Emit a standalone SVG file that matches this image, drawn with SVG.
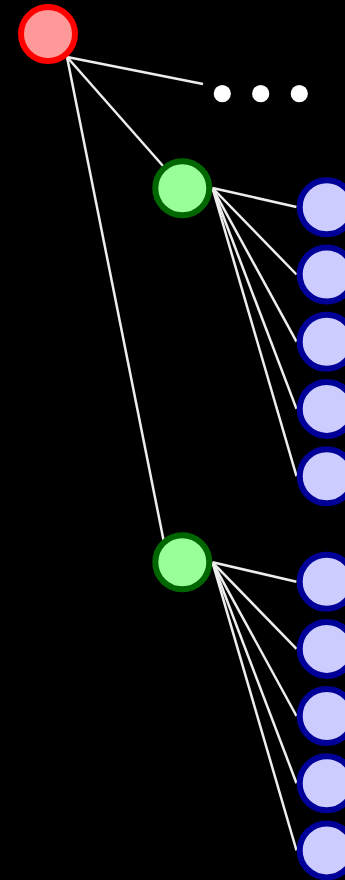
<svg xmlns="http://www.w3.org/2000/svg" width="345" height="880" viewBox="0 0 345 880">
<style>
.edge{stroke:#eeeeee;stroke-width:2.5;fill:none;stroke-linecap:butt}
.root{fill:#ff9999;stroke:#ff0000;stroke-width:6}
.mid{fill:#99ff99;stroke:#006600;stroke-width:6}
.leaf{fill:#ccccff;stroke:#000099;stroke-width:6}
.dot{fill:#ffffff}
</style>
<rect x="0" y="0" width="345" height="880" fill="#000000"/>
<g id="connectors">
<line class="edge" x1="67" y1="57" x2="203" y2="84"/>
<line class="edge" x1="67" y1="57" x2="163.5" y2="166.5"/>
<line class="edge" x1="67" y1="57" x2="163.5" y2="540"/>
<line class="edge" x1="212.5" y1="188" x2="296.5" y2="207"/>
<line class="edge" x1="212.5" y1="188" x2="296.5" y2="274.5"/>
<line class="edge" x1="212.5" y1="188" x2="296.5" y2="341.7"/>
<line class="edge" x1="212.5" y1="188" x2="296.5" y2="408.9"/>
<line class="edge" x1="212.5" y1="188" x2="296.5" y2="476.2"/>
<line class="edge" x1="212.5" y1="562.3" x2="296.5" y2="581.7"/>
<line class="edge" x1="212.5" y1="562.3" x2="296.5" y2="648.9"/>
<line class="edge" x1="212.5" y1="562.3" x2="296.5" y2="716"/>
<line class="edge" x1="212.5" y1="562.3" x2="296.5" y2="783.2"/>
<line class="edge" x1="212.5" y1="562.3" x2="296.5" y2="850.5"/>
</g>
<g id="root"><circle class="root" cx="48" cy="34" r="27"/></g>
<g id="ellipsis">
<circle class="dot" cx="222.3" cy="93.7" r="8.6"/>
<circle class="dot" cx="260.7" cy="93.7" r="8.6"/>
<circle class="dot" cx="299.3" cy="93.7" r="8.6"/>
</g>
<g id="mid1"><circle class="mid" cx="182.3" cy="188.3" r="27"/></g>
<g id="mid2"><circle class="mid" cx="182.3" cy="562.3" r="27"/></g>
<g id="leaf1"><circle class="leaf" cx="326.7" cy="207.3" r="27"/></g>
<g id="leaf2"><circle class="leaf" cx="326.7" cy="274.5" r="27"/></g>
<g id="leaf3"><circle class="leaf" cx="326.7" cy="341.7" r="27"/></g>
<g id="leaf4"><circle class="leaf" cx="326.7" cy="408.9" r="27"/></g>
<g id="leaf5"><circle class="leaf" cx="326.7" cy="476.2" r="27"/></g>
<g id="leaf6"><circle class="leaf" cx="326.7" cy="581.7" r="27"/></g>
<g id="leaf7"><circle class="leaf" cx="326.7" cy="648.9" r="27"/></g>
<g id="leaf8"><circle class="leaf" cx="326.7" cy="716" r="27"/></g>
<g id="leaf9"><circle class="leaf" cx="326.7" cy="783.2" r="27"/></g>
<g id="leaf10"><circle class="leaf" cx="326.7" cy="850.4" r="27"/></g>
</svg>
